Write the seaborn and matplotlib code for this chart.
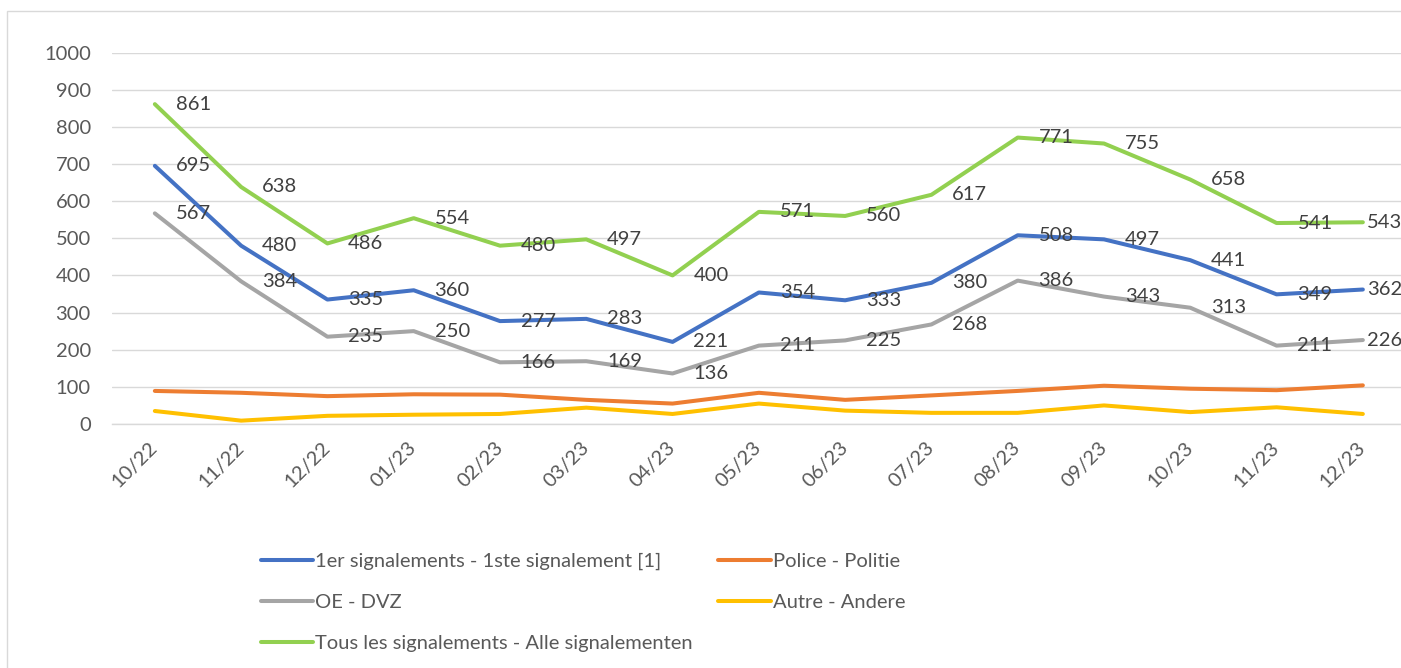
import numpy as np
import pandas as pd
import matplotlib.pyplot as plt
import seaborn as sns
from matplotlib.patches import Rectangle
from matplotlib.lines import Line2D

# Données
mois = ['10/22', '11/22', '12/22', '01/23', '02/23', '03/23', '04/23', '05/23',
        '06/23', '07/23', '08/23', '09/23', '10/23', '11/23', '12/23']

premiers = [695, 480, 335, 360, 277, 283, 221, 354, 333, 380, 508, 497, 441, 349, 362]
police = [89, 84, 75, 80, 79, 65, 55, 84, 65, 77, 89, 103, 95, 91, 104]
oe = [567, 384, 235, 250, 166, 169, 136, 211, 225, 268, 386, 343, 313, 211, 226]
autre = [35, 9, 22, 25, 27, 44, 27, 55, 36, 30, 30, 50, 32, 45, 27]
tous = [861, 638, 486, 554, 480, 497, 400, 571, 560, 617, 771, 755, 658, 541, 543]

noms = ['1er signalements - 1ste signalement [1]', 'Police - Politie', 'OE - DVZ',
        'Autre - Andere', 'Tous les signalements - Alle signalementen']
series = [premiers, police, oe, autre, tous]
couleurs = ['#4472C4', '#ED7D31', '#A5A5A5', '#FFC000', '#92D050']
avec_etiquettes = [True, False, True, False, True]

df = pd.concat([pd.DataFrame({'mois': mois, 'valeur': v, 'serie': n})
                for n, v in zip(noms, series)], ignore_index=True)

sns.set_style('white')
plt.rcParams['font.family'] = ['Lato', 'DejaVu Sans']
taille = 14.5

fig = plt.figure(figsize=(14.01, 6.68), dpi=100)
ax = fig.add_axes([111.7 / 1401, 244 / 668, (1406 - 111.7) / 1401, 371.5 / 668])

sns.lineplot(data=df, x='mois', y='valeur', hue='serie', hue_order=noms,
             palette=couleurs, sort=False, linewidth=2.9, legend=False, ax=ax)
for ligne in ax.lines:
    ligne.set_solid_capstyle('round')
    ligne.set_solid_joinstyle('round')

# Étiquettes de données à droite des points (la dernière reste dans le cadre)
for v, ok in zip(series, avec_etiquettes):
    if not ok:
        continue
    for i, val in enumerate(v):
        dx = 3 if i == len(v) - 1 else 15
        ax.annotate(str(val), (i, val), xytext=(dx, 0), textcoords='offset points',
                    ha='left', va='center', fontsize=taille, color='#404040')

ax.set_xlim(-0.5, len(mois) - 0.5)
ax.set_ylim(0, 1000)
ax.set_yticks(np.arange(0, 1001, 100))
ax.set_xticks(range(len(mois)))
ax.set_xticklabels(mois, rotation=45, ha='right', va='center', rotation_mode='anchor')
ax.set_xticks(np.arange(-0.5, len(mois), 1), minor=True)
ax.tick_params(axis='x', which='major', length=0, pad=15, labelsize=taille, labelcolor='#595959')
ax.tick_params(axis='x', which='minor', length=5, width=1, color='#D9D9D9', direction='out')
ax.tick_params(axis='y', length=0, pad=15, labelsize=taille, labelcolor='#595959')
ax.set_xlabel('')
ax.set_ylabel('')

ax.grid(axis='y', color='#D9D9D9', linewidth=1)
ax.set_axisbelow(True)
for cote in ['top', 'right', 'left']:
    ax.spines[cote].set_visible(False)
ax.spines['bottom'].set_color('#D9D9D9')
ax.spines['bottom'].set_linewidth(1)

# Légende en deux colonnes sous le graphique
poignees = [Line2D([0], [0], color=c, linewidth=2.9, solid_capstyle='round') for c in couleurs]
ordre = [0, 2, 4, 1, 3]
fig.legend([poignees[i] for i in ordre], [noms[i] for i in ordre], ncol=2,
           loc='upper left', bbox_to_anchor=(261 / 1401, 1 - 553 / 668),
           frameon=False, fontsize=taille, labelcolor='#595959', handlelength=2.6,
           handletextpad=0.1, columnspacing=1.25, labelspacing=1.18,
           borderpad=0, borderaxespad=0)

# Cadre du graphique
fig.add_artist(Rectangle((7 / 1401, -0.2), 1.2, 1.2 - 10.7 / 668,
                         transform=fig.transFigure, fill=False,
                         edgecolor='#D9D9D9', linewidth=1))

fig.savefig('out.png', dpi=100)
